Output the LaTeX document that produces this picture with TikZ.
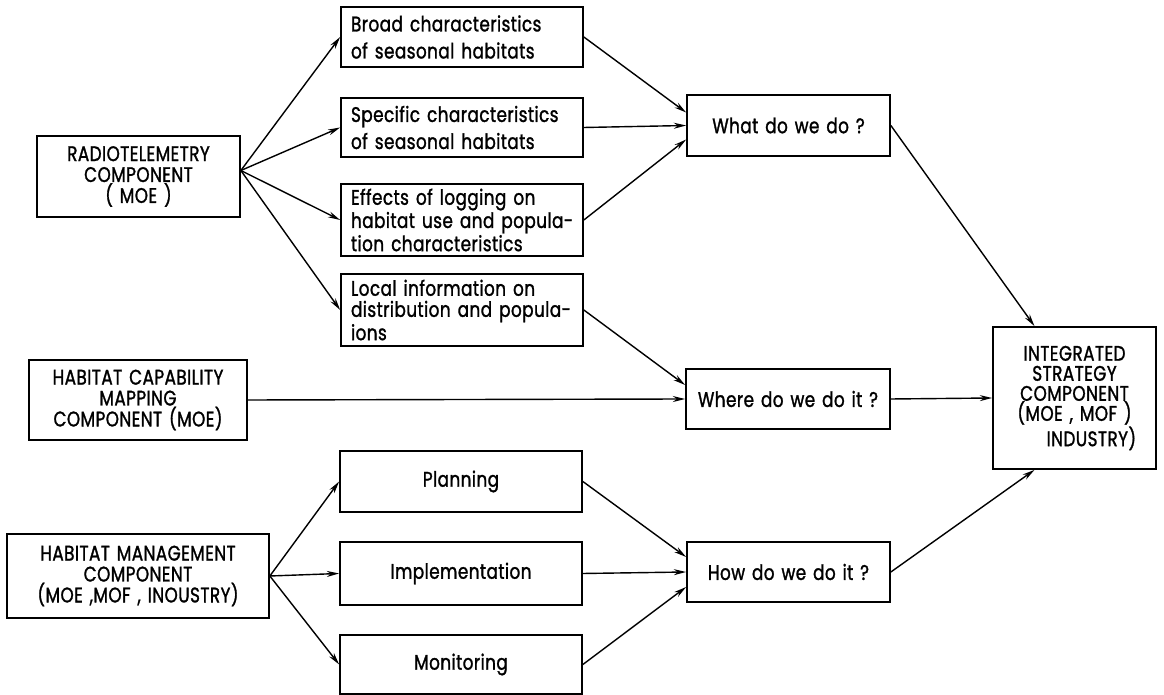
\documentclass[tikz,border=0pt]{standalone}
\usepackage{fontspec}
\setmainfont{Poppins}[FakeBold=1.3, FakeStretch=0.8, LetterSpace=2, WordSpace=1.4]
\usetikzlibrary{arrows.meta,calc}

\begin{document}
\begin{tikzpicture}[x=0.02cm, y=-0.02cm, >={Stealth[length=7pt,width=3.4pt]}]

    \tikzset{boxstyle/.style={draw, line width=1pt, align=center, inner sep=2pt, font=\fontsize{12}{11.9}\selectfont}}
    \tikzset{leftbox/.style={boxstyle, align=left, text width=4.44cm, inner xsep=0.2cm}}

    \useasboundingbox (0,0) rectangle (1164,695);

    % Columna izquierda
    \node[boxstyle, minimum width=4.06cm, minimum height=1.62cm] (radio) at (138.5,176.5) {RADIOTELEMETRY\\COMPONENT\\( MOE )};
    \node[boxstyle, minimum width=4.36cm, minimum height=1.60cm] (capab) at (138,400) {HABITAT CAPABILITY\\MAPPING\\COMPONENT (MOE)};
    \node[boxstyle, minimum width=5.24cm, minimum height=1.68cm] (manag) at (138,576) {HABITAT MANAGEMENT\\COMPONENT\\(MOE ,MOF , INOUSTRY)};
    \coordinate (rapex) at ($(radio.east)+(0,-6)$);

    % Columna central
    \node[leftbox, minimum height=1.20cm, font=\fontsize{12}{15.4}\selectfont] (broad) at (462,37) {Broad characteristics\\of seasonal habitats};
    \node[leftbox, minimum height=1.18cm, font=\fontsize{12}{15.4}\selectfont] (specif) at (462,127.5) {Specific characteristics\\of seasonal habitats};
    \node[leftbox, minimum height=1.44cm, font=\fontsize{12}{13.2}\selectfont] (effects) at (462,220) {Effects of logging on\\\mbox{habitat use and popula-}\\tion characteristics};
    \node[leftbox, minimum height=1.44cm, font=\fontsize{12}{12}\selectfont] (local) at (462,310) {Local information on\\\mbox{distribution and popula-}\\ions};

    \node[boxstyle, minimum width=4.84cm, minimum height=1.22cm] (plan) at (461,481.5) {Planning};
    \node[boxstyle, minimum width=4.84cm, minimum height=1.26cm] (implem) at (461,573.5) {Implementation};
    \node[boxstyle, minimum width=4.84cm, minimum height=1.18cm] (monit) at (461,664.5) {Monitoring};

    % Preguntas
    \node[boxstyle, minimum width=4.06cm, minimum height=1.22cm] (what) at (788.5,125.5) {What do we do ?};
    \node[boxstyle, minimum width=4.08cm, minimum height=1.20cm] (where) at (788,399) {Where do we do it ?};
    \node[boxstyle, minimum width=4.06cm, minimum height=1.20cm] (how) at (788.5,572) {How do we do it ?};

    \node[boxstyle, minimum width=3.26cm, minimum height=2.84cm, font=\fontsize{12}{11.4}\selectfont] (integ) at (1074.5,398) {INTEGRATED\\STRATEGY\\COMPONENT\\(MOE , MOF )\\\hspace{1.6em}INDUSTRY)};

    \begin{scope}[every path/.style={->, line width=0.8pt}]
        \draw (rapex) -- (broad.west);
        \draw (rapex) -- (specif.west);
        \draw (rapex) -- (effects.west);
        \draw (rapex) -- (local.west);

        \draw (broad.east) -- ($(what.west)+(0,-13)$);
        \draw (specif.east) -- (what.west);
        \draw (effects.east) -- ($(what.west)+(0,14)$);

        \draw (local.east) -- ($(where.west)+(0,-14)$);
        \draw (capab.east) -- (where.west);

        \draw (manag.east) -- (plan.west);
        \draw (manag.east) -- (implem.west);
        \draw (manag.east) -- (monit.west);

        \draw (plan.east) -- ($(how.west)+(0,-15)$);
        \draw (implem.east) -- (how.west);
        \draw (monit.east) -- ($(how.west)+(0,15)$);

        \draw (what.east) -- ($(integ.north)+(-40,0)$);
        \draw (where.east) -- (integ.west);
        \draw (how.east) -- ($(integ.south)+(-40,0)$);
    \end{scope}

\end{tikzpicture}
\end{document}
